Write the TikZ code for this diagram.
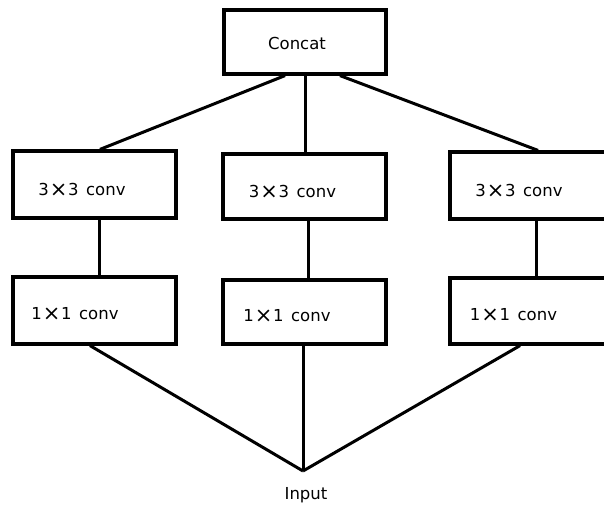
\documentclass[tikz,border=0pt]{standalone}
\usepackage{fontspec}
\setmainfont{DejaVu Sans}
\newcommand{\bigx}{\hspace{0.05em}\raisebox{-0.08em}{\fontsize{21}{18}\selectfont ×}\hspace{0.05em}}
\begin{document}
\begin{tikzpicture}[x=1pt,y=-1pt,
  box/.style={draw,line width=3.2pt,minimum width=163pt,minimum height=65pt,inner sep=0pt},
  lbl/.style={inner sep=0pt,font=\fontsize{16.5}{18}\selectfont},
  wire/.style={line width=3pt}]
\useasboundingbox (0,0) rectangle (604,506);
\clip (0,0) rectangle (604,506);
% boxes
\node[box,minimum width=162pt,minimum height=64pt] (concat) at (305,42) {};
\node[box,minimum height=67pt] (l3) at (94.5,184.5) {};
\node[box,minimum height=67pt] (l1) at (94.5,310.5) {};
\node[box] (m3) at (304.5,186.5) {};
\node[box,minimum height=64pt] (m1) at (304.5,312) {};
\node[box,minimum width=172pt,minimum height=67pt] (r3) at (536,185.5) {};
\node[box,minimum width=172pt,minimum height=66pt] (r1) at (536,311) {};
% labels
\node[lbl] (tc) at (297,43) {Concat};
\node[lbl] (tl3) at (82,190) {3\bigx3\hspace{0.45em}conv};
\node[lbl] (tl1) at (75,314) {1\bigx1\hspace{0.45em}conv};
\node[lbl] (tm3) at (292.5,192) {3\bigx3\hspace{0.45em}conv};
\node[lbl] (tm1) at (287,316) {1\bigx1\hspace{0.45em}conv};
\node[lbl] (tr3) at (519,191) {3\bigx3\hspace{0.45em}conv};
\node[lbl] (tr1) at (513.5,315) {1\bigx1\hspace{0.45em}conv};
\node[lbl] (input) at (306,495) {Input};
\coordinate (tip) at (303,471);
% connectors
\draw[wire] (285,0 |- concat.south) -- (100,0 |- l3.north);
\draw[wire] (305.5,0 |- concat.south) -- (305.5,0 |- m3.north);
\draw[wire] (340,0 |- concat.south) -- (538,0 |- r3.north);
\draw[wire] (99,0 |- l3.south) -- (99,0 |- l1.north);
\draw[wire] (308,0 |- m3.south) -- (308,0 |- m1.north);
\draw[wire] (536,0 |- r3.south) -- (536,0 |- r1.north);
\draw[wire] (90,0 |- l1.south) -- (tip);
\draw[wire] (303,0 |- m1.south) -- (tip);
\draw[wire] (520,0 |- r1.south) -- (tip);
\end{tikzpicture}
\end{document}
